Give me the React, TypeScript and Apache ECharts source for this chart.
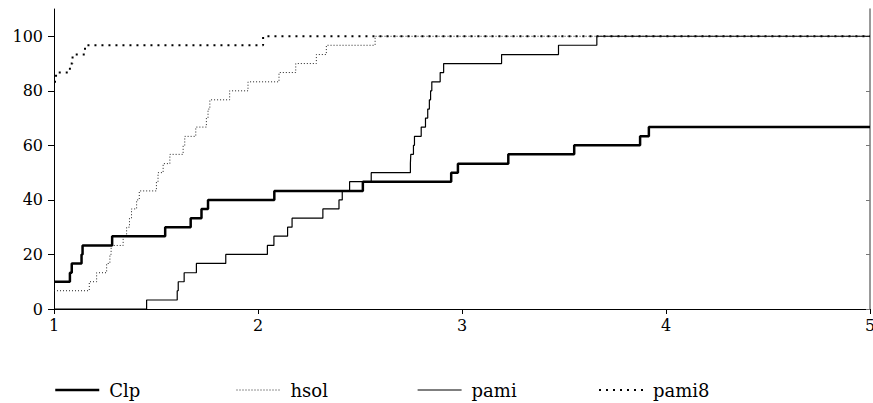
import React, { useEffect, useRef } from "react";
import * as echarts from "echarts";

const seriesNames = ["Clp", "hsol", "pami", "pami8"];

const clp: number[][] = [
  [1, 10], [1.078, 13.3], [1.087, 16.7], [1.135, 20], [1.14, 23.3], [1.285, 26.7],
  [1.545, 30], [1.67, 33.3], [1.723, 36.7], [1.755, 40], [2.08, 43.3], [2.514, 46.7],
  [2.947, 50], [2.98, 53.3], [3.227, 56.7], [3.55, 60], [3.873, 63.3], [3.916, 66.7],
  [5, 66.7],
];

const hsol: number[][] = [
  [1, 6.7], [1.173, 10], [1.209, 13.3], [1.258, 16.7], [1.274, 20], [1.28, 23.3],
  [1.339, 26.7], [1.356, 30], [1.37, 33.3], [1.38, 36.7], [1.405, 40], [1.418, 43.3],
  [1.502, 46.7], [1.51, 50], [1.535, 53.3], [1.568, 56.7], [1.633, 60], [1.641, 63.3],
  [1.695, 66.7], [1.747, 70], [1.755, 73.3], [1.764, 76.7], [1.861, 80], [1.951, 83.3],
  [2.103, 86.7], [2.185, 90], [2.286, 93.3], [2.335, 96.7], [2.574, 100], [5, 100],
];

const pami: number[][] = [
  [1, 0], [1.454, 3.3], [1.604, 6.7], [1.609, 10], [1.638, 13.3], [1.698, 16.7],
  [1.842, 20], [2.046, 23.3], [2.078, 26.7], [2.145, 30], [2.167, 33.3], [2.318, 36.7],
  [2.397, 40], [2.413, 43.3], [2.449, 46.7], [2.555, 50], [2.747, 53.3], [2.749, 56.7],
  [2.762, 60], [2.767, 63.3], [2.8, 66.7], [2.821, 70], [2.832, 73.3], [2.84, 76.7],
  [2.846, 80], [2.852, 83.3], [2.893, 86.7], [2.91, 90], [3.194, 93.3], [3.473, 96.7],
  [3.661, 100], [5, 100],
];

const pami8: number[][] = [
  [1, 83.3], [1.01, 86.7], [1.078, 90], [1.091, 93.3], [1.152, 96.7], [2.025, 100], [5, 100],
];

const yTicks = [0, 20, 40, 60, 80, 100];
const xTicks = [1, 2, 3, 4, 5];

const FONT = "'DejaVu Serif', serif";

const lineStyles: any[] = [
  { color: "#000", width: 2.5, type: "solid" },
  { color: "#222", width: 1, type: [1, 2] },
  { color: "#000", width: 1.2, type: "solid" },
  { color: "#000", width: 2, type: [2, 5] },
];

export default function App() {
  const ref = useRef<HTMLDivElement>(null);
  useEffect(() => {
    if (!ref.current) return;
    const chart = echarts.init(ref.current, undefined, { renderer: "svg" });
    const datasets = [clp, hsol, pami, pami8];
    const legendLineX = [54, 236, 417, 598];
    const legends = seriesNames.map((name, i) => ({
      show: true,
      data: [name],
      left: legendLineX[i],
      top: 381,
      orient: "horizontal",
      padding: 0,
      itemWidth: 44,
      itemHeight: 20,
      itemGap: 0,
      selectedMode: false,
      itemStyle: { opacity: 0 },
      lineStyle: {
        color: lineStyles[i].color,
        width: lineStyles[i].width,
        type: lineStyles[i].type,
        cap: "butt",
      },
      textStyle: {
        fontFamily: FONT,
        fontSize: 18,
        color: "#000",
        padding: [0, 0, 0, 5],
      },
    }));
    chart.setOption({
      animation: false,
      color: ["#000", "#222", "#000", "#000"],
      legend: legends,
      grid: {
        left: 54,
        right: 3,
        top: 9,
        bottom: 94,
        containLabel: false,
        outerBoundsMode: "none",
      },
      xAxis: {
        type: "value",
        min: 1,
        max: 5,
        interval: 1,
        axisLine: { show: true, lineStyle: { color: "#000", width: 1 } },
        axisTick: { show: true, length: 5, inside: false, lineStyle: { color: "#000" } },
        axisLabel: {
          margin: 8,
          color: "#000",
          fontFamily: FONT,
          fontSize: 16,
          showMaxLabel: true,
          hideOverlap: false,
          formatter: (v: number) => (xTicks.includes(v) ? String(v) : ""),
        },
        splitLine: { show: false },
      },
      yAxis: [
        {
          type: "value",
          min: 0,
          max: 110,
          interval: 20,
          position: "left",
          axisLine: { show: true, lineStyle: { color: "#000", width: 1 } },
          axisTick: {
            show: true,
            length: 6,
            inside: false,
            customValues: yTicks,
            lineStyle: { color: "#000" },
          },
          axisLabel: {
            margin: 11,
            color: "#000",
            fontFamily: FONT,
            fontSize: 16,
            customValues: yTicks,
            formatter: (v: number) => (yTicks.includes(v) ? String(v) : ""),
          },
          splitLine: { show: false },
        },
        {
          type: "value",
          min: 0,
          max: 110,
          interval: 20,
          position: "right",
          axisLine: { show: true, lineStyle: { color: "#777", width: 1.5 } },
          axisTick: {
            show: true,
            length: 4,
            inside: true,
            customValues: yTicks,
            lineStyle: { color: "#777" },
          },
          axisLabel: { show: false },
          splitLine: { show: false },
        },
      ],
      series: seriesNames.map((name, i) => ({
        name,
        type: "line",
        step: "end",
        yAxisIndex: 0,
        data: datasets[i],
        showSymbol: false,
        symbol: "none",
        itemStyle: { color: lineStyles[i].color },
        lineStyle: { ...lineStyles[i], cap: "butt" },
        z: 10 - i,
      })),
    });
    return () => chart.dispose();
  }, []);
  return (
    <div
      ref={ref}
      style={{ position: "absolute", left: 0, top: 0, width: 873, height: 403, background: "#fff" }}
    />
  );
}
